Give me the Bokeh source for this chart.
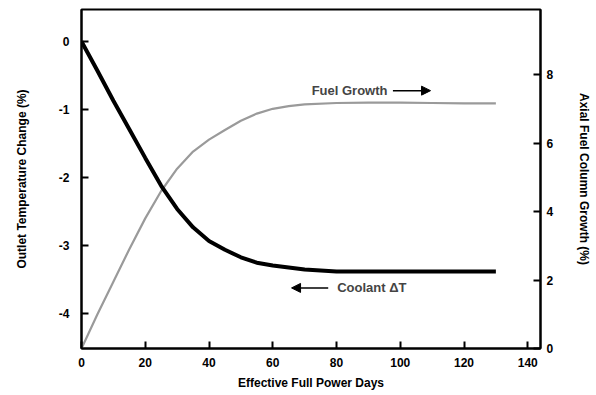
from bokeh.plotting import figure
from bokeh.models import Range1d, LinearAxis, FixedTicker, Label, Arrow, NormalHead, PrintfTickFormatter
from bokeh.embed import file_html
from bokeh.resources import INLINE

# Data
days = [0, 5, 10, 15, 20, 25, 30, 35, 40, 45, 50, 55, 60, 65, 70, 80, 90, 100, 110, 120, 130]
coolant_dt = [0, -0.43, -0.87, -1.29, -1.71, -2.12, -2.46, -2.73, -2.93, -3.06, -3.17, -3.25,
              -3.29, -3.32, -3.35, -3.38, -3.38, -3.38, -3.38, -3.38, -3.38]
fuel_growth = [0, 1.0, 1.95, 2.9, 3.8, 4.6, 5.25, 5.75, 6.1, 6.38, 6.65, 6.86, 7.0, 7.08,
               7.13, 7.17, 7.18, 7.18, 7.17, 7.16, 7.16]

x_ticks = [0, 20, 40, 60, 80, 100, 120, 140]
left_ticks = [0, -1, -2, -3, -4]
right_ticks = [0, 2, 4, 6, 8]

FONT = "Liberation Sans"

p = figure(width=594, height=393, output_backend="svg", toolbar_location=None,
           x_range=Range1d(0, 144), y_range=Range1d(-4.51, 0.47),
           min_border_left=81, min_border_right=51, min_border_top=9, min_border_bottom=45)
p.extra_y_ranges = {"right": Range1d(0, 9.9)}

p.grid.visible = False
p.outline_line_color = "black"
p.outline_line_width = 2
p.background_fill_color = "white"
p.border_fill_color = "white"

def style_axis(ax):
    ax.axis_line_color = "black"
    ax.axis_line_width = 2
    ax.major_tick_in = 7
    ax.major_tick_out = 0
    ax.major_tick_line_width = 2
    ax.minor_tick_line_color = None
    ax.major_label_text_font = FONT
    ax.major_label_text_font_style = "bold"
    ax.major_label_text_font_size = "12px"
    ax.major_label_text_color = "black"
    ax.axis_label_text_font = FONT
    ax.axis_label_text_font_style = "bold"
    ax.axis_label_text_font_size = "12px"
    ax.axis_label_text_color = "black"
    ax.formatter = PrintfTickFormatter(format="%d")

xa = p.xaxis[0]
style_axis(xa)
xa.ticker = FixedTicker(ticks=x_ticks)
xa.axis_label = "Effective Full Power Days"
xa.major_label_standoff = 9
xa.axis_label_standoff = 6

ya = p.yaxis[0]
style_axis(ya)
ya.ticker = FixedTicker(ticks=left_ticks)
ya.axis_label = "Outlet Temperature Change (%)"
ya.major_label_standoff = 12
ya.axis_label_standoff = 27

ra = LinearAxis(y_range_name="right", axis_label="Axial Fuel Column Growth (%)")
style_axis(ra)
ra.ticker = FixedTicker(ticks=right_ticks)
ra.major_label_standoff = 6
ra.axis_label_standoff = 21
p.add_layout(ra, "right")

p.line(days, fuel_growth, y_range_name="right", line_color="#9a9a9a", line_width=2.2)
p.line(days, coolant_dt, line_color="black", line_width=4)

p.add_layout(Label(x=72.2, y=7.53, y_range_name="right", text="Fuel Growth",
                   text_font=FONT, text_font_style="bold", text_font_size="13px",
                   text_baseline="middle", text_align="left"))
p.add_layout(Arrow(x_start=97.7, y_start=7.53, x_end=109.5, y_end=7.53, y_range_name="right",
                   line_width=1.5, end=NormalHead(size=9, fill_color="black", line_color="black")))

p.add_layout(Label(x=80.2, y=-3.62, text="Coolant \u0394T",
                   text_font=FONT, text_font_style="bold", text_font_size="13px",
                   text_baseline="middle", text_align="left"))
p.add_layout(Arrow(x_start=77.4, y_start=-3.62, x_end=65.9, y_end=-3.62,
                   line_width=1.5, end=NormalHead(size=9, fill_color="black", line_color="black")))

open("out.html", "w").write(file_html(p, INLINE))
